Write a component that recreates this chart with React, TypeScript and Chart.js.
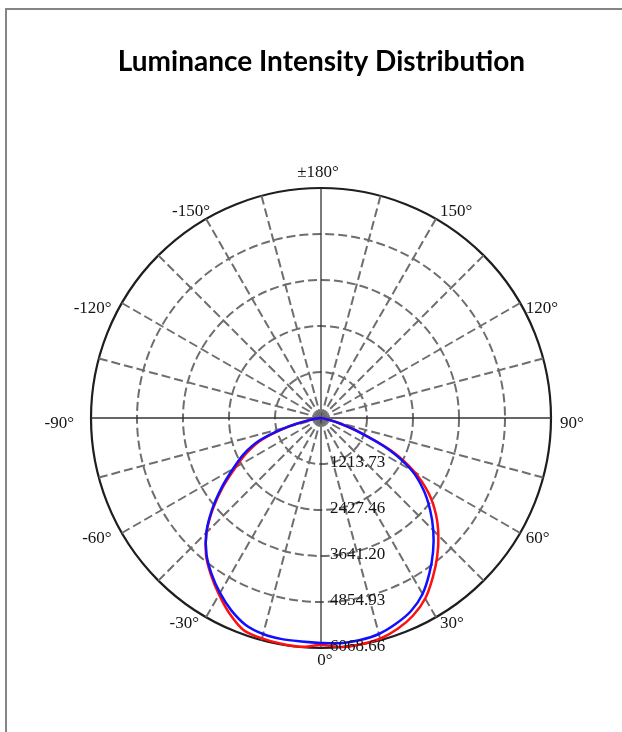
import React, { useEffect, useRef } from "react";
import { Chart, registerables } from "chart.js";

Chart.register(...registerables);

const TITLE = "Luminance Intensity Distribution";

// Angles (degrees, 0° = straight down, +90° = right). Upper hemisphere intensity is 0.
const ANGLES = [
  -90, -85, -80, -75, -70, -65, -60, -55, -50, -45, -40, -35, -30, -25, -20, -15, -10, -5,
  0, 5, 10, 15, 20, 25, 30, 35, 40, 45, 50, 55, 60, 65, 70, 75, 80, 85, 90,
];

const RED = [
  0, 30, 280, 900, 1650, 2150, 2600, 3150, 3720, 4270, 4720, 5060, 5380, 5700, 5960, 6020, 6050, 6060,
  5990, 6068.66, 6060, 6030, 5920, 5750, 5500, 5140, 4770, 4380, 3960, 3470, 2850, 2050, 1080, 430, 60, 0, 0,
];

const BLUE = [
  0, 30, 300, 950, 1720, 2250, 2680, 3200, 3750, 4280, 4700, 5030, 5330, 5600, 5810, 5900, 5925, 5920,
  5935, 5965, 5950, 5900, 5780, 5620, 5360, 4990, 4600, 4190, 3755, 3300, 2760, 1980, 1000, 400, 60, 0, 0,
];

const MAX_VALUE = 6068.66;
const RING_COUNT = 5;
const ANGLE_STEP = 5;
const SPOKE_STEP = 15;
const ANGLE_LABELS = [-150, -120, -90, -60, -30, 0, 30, 60, 90, 120, 150, 180];

// radar labels, clockwise from the bottom: 0, -5, ..., -175, 180, 175, ..., 5
const LABELS: number[] = [];
for (let i = 0; i < 360 / ANGLE_STEP; i++) {
  let a = -ANGLE_STEP * i;
  if (a <= -180) a += 360;
  LABELS.push(a);
}

function seriesFor(values: number[]) {
  return LABELS.map((a) => {
    const k = ANGLES.indexOf(a);
    return k >= 0 ? values[k] : 0;
  });
}

const polarText = {
  id: "polarText",
  afterDraw(chart: any) {
    const scale = chart.scales.r;
    const ctx = chart.ctx;
    const R = scale.drawingArea;
    ctx.save();
    ctx.font = '17px "Liberation Serif"';
    ctx.fillStyle = "#151515";
    ctx.textBaseline = "middle";
    ctx.textAlign = "left";
    scale.ticks.forEach((t: any, i: number) => {
      if (i === 0) return;
      const d = scale.getDistanceFromCenterForValue(t.value);
      const p = scale.getPointPosition(0, d);
      ctx.fillText(t.value.toFixed(2), p.x + 9, p.y - 1);
    });
    LABELS.forEach((lab, i) => {
      if (!ANGLE_LABELS.includes(lab)) return;
      const text = lab === 180 ? "±180°" : `${lab}°`;
      const p = scale.getPointPosition(i, R);
      const s = Math.abs(Math.sin((lab * Math.PI) / 180));
      if (lab === 180) {
        ctx.textAlign = "center";
        ctx.fillText(text, p.x - 3, p.y - 15);
      } else if (lab === 0) {
        ctx.textAlign = "center";
        ctx.fillText(text, p.x + 4, p.y + 13);
      } else if (Math.abs(lab) >= 150) {
        ctx.textAlign = lab > 0 ? "left" : "right";
        ctx.fillText(text, p.x + 4, p.y - 7);
      } else if (lab > 0) {
        ctx.textAlign = "left";
        ctx.fillText(text, p.x + 4 + 5 * Math.pow(s, 8), p.y + 6);
      } else {
        ctx.textAlign = "right";
        ctx.fillText(text, p.x - 7 - 10 * Math.pow(s, 8), p.y + 6);
      }
    });
    ctx.restore();
  },
};

export default function App() {
  const ref = useRef<HTMLCanvasElement>(null);
  useEffect(() => {
    const chart = new Chart(ref.current as HTMLCanvasElement, {
      type: "radar",
      data: {
        labels: LABELS.map(String),
        datasets: [
          {
            label: "C90",
            data: seriesFor(BLUE),
            borderColor: "#1010ff",
            borderWidth: 2.5,
            pointRadius: 0,
            fill: false,
            tension: 0.3,
          },
          {
            label: "C0",
            data: seriesFor(RED),
            borderColor: "#ff1010",
            borderWidth: 2.5,
            pointRadius: 0,
            fill: false,
            tension: 0.3,
          },
        ],
      },
      options: {
        responsive: false,
        animation: false,
        layout: { padding: { left: 91.5, right: 70.5, top: 0, bottom: 83.5 } },
        plugins: {
          legend: { display: false },
          tooltip: { enabled: false },
          title: {
            display: true,
            text: TITLE,
            color: "#000",
            font: { family: "Lato", size: 28, weight: "bold" },
            padding: { top: 45, bottom: 109.9 },
          },
        },
        scales: {
          r: {
            min: 0,
            max: MAX_VALUE,
            startAngle: 180,
            ticks: { display: false, count: RING_COUNT + 1 },
            pointLabels: { display: false },
            grid: {
              circular: true,
              color: (c: any) => (c.index === RING_COUNT ? "#1e1e1e" : "#6e6e6e"),
              lineWidth: (c: any) => (c.index === RING_COUNT ? 2.2 : 2),
            },
            border: {
              dash: (c: any) => (c.index === RING_COUNT ? [] : [9, 4]),
            },
            angleLines: {
              color: (c: any) => {
                const a = LABELS[c.index];
                if (a % 90 === 0) return "#333";
                return a % SPOKE_STEP === 0 ? "#6e6e6e" : "rgba(0,0,0,0)";
              },
              lineWidth: (c: any) => {
                const a = LABELS[c.index];
                if (a % 90 === 0) return 1.3;
                return a % SPOKE_STEP === 0 ? 2 : 0;
              },
              borderDash: (c: any) => (LABELS[c.index] % 90 === 0 ? [] : [9, 4]),
            },
          },
        },
      } as any,
      plugins: [polarText],
    });
    return () => chart.destroy();
  }, []);

  return (
    <div
      style={{
        position: "absolute",
        left: 0,
        top: 0,
        width: 622,
        height: 732,
        overflow: "hidden",
        background: "#fff",
      }}
    >
      <div
        style={{
          position: "absolute",
          left: 5,
          top: 8,
          width: 700,
          height: 800,
          borderLeft: "2px solid #858585",
          borderTop: "2px solid #858585",
        }}
      />
      <canvas ref={ref} width={622} height={732} style={{ position: "absolute", left: 0, top: 0 }} />
    </div>
  );
}
